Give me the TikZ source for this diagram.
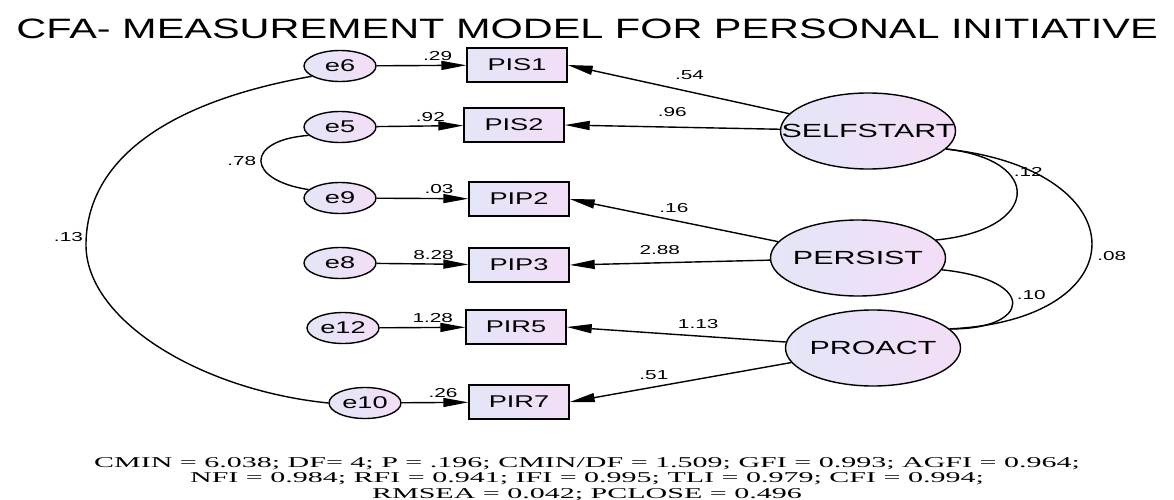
\documentclass[tikz,border=0pt]{standalone}
\usepackage{fontspec}
\setmainfont{Liberation Sans}[FakeStretch=1.6]
\newfontfamily\titlefont{Liberation Sans}[FakeStretch=1.48]
\newfontfamily\statfont{Liberation Serif}[FakeStretch=2.0]
\usetikzlibrary{arrows.meta,positioning,shapes.geometric}
\definecolor{lavleft}{RGB}{228,230,248}
\definecolor{lavright}{RGB}{243,221,247}
\tikzset{
	errnode/.style={ellipse, draw, line width=1.4pt, minimum width=72pt, minimum height=31pt, inner sep=0pt,
		left color=lavleft, right color=lavright, font=\fontsize{17}{19}\selectfont},
	obsnode/.style={rectangle, draw, line width=1.4pt, minimum width=100pt, minimum height=34pt, inner sep=0pt,
		left color=lavleft, right color=lavright, font=\fontsize{17}{19}\selectfont},
	latnode/.style={ellipse, draw, line width=1.4pt, minimum width=175pt, minimum height=76pt,
		inner xsep=-50pt, inner ysep=0pt,
		left color=lavleft, right color=lavright, font=\fontsize{19}{21}\selectfont},
	load/.style={line width=1.4pt, -{Triangle[length=25pt,width=9pt]}},
	cov/.style={line width=1.4pt},
	coef/.style={font=\fontsize{13}{15}\selectfont, inner sep=1pt}
}
\begin{document}
\begin{tikzpicture}[x=1pt, y=-1pt]
	\useasboundingbox[fill=white] (0,0) rectangle (1174,500);
	\node[font=\titlefont\fontsize{28}{30}\selectfont] (title) at (587,29) {CFA- MEASUREMENT MODEL FOR PERSONAL INITIATIVE};
	% error terms
	\node[errnode] (e6) at (340,66) {e6};
	\node[errnode] (e5) at (340,127) {e5};
	\node[errnode] (e9) at (340,198) {e9};
	\node[errnode] (e8) at (340,263) {e8};
	\node[errnode] (e12) at (343,328) {e12};
	\node[errnode] (e10) at (365,403) {e10};
	% indicators
	\node[obsnode] (pis1) at (517,65) {PIS1};
	\node[obsnode] (pis2) at (514,125) {PIS2};
	\node[obsnode] (pip2) at (519,199) {PIP2};
	\node[obsnode] (pip3) at (519,265) {PIP3};
	\node[obsnode] (pir5) at (516,327) {PIR5};
	\node[obsnode] (pir7) at (519,402) {PIR7};
	% factors
	\node[latnode] (self) at (868,131) {SELFSTART};
	\node[latnode] (pers) at (858,258) {PERSIST};
	\node[latnode] (proa) at (873,348) {PROACT};
	% errors to indicators
	\draw[load] (e6) -- node[coef, pos=0.68, above=3pt] {.29} (pis1);
	\draw[load] (e5) -- node[coef, pos=0.62, above=3pt] {.92} (pis2);
	\draw[load] (e9) -- node[coef, pos=0.68, above=3pt] {.03} (pip2);
	\draw[load] (e8) -- node[coef, pos=0.62, above=3pt] {8.28} (pip3);
	\draw[load] (e12) -- node[coef, pos=0.62, above=3pt] {1.28} (pir5);
	\draw[load] (e10) -- node[coef, pos=0.62, above=3pt] {.26} (pir7);
	% factors to indicators
	\draw[load] (self) -- node[coef, pos=0.45, above=10pt] {.54} (pis1.east);
	\draw[load] (self) -- node[coef, pos=0.5, above=9pt] {.96} (pis2.east);
	\draw[load] (pers) -- node[coef, pos=0.5, above=6pt] {.16} (pip2.east);
	\draw[load] (pers) -- node[coef, pos=0.55, above=6pt] {2.88} (pip3.east);
	\draw[load] (proa) -- node[coef, pos=0.4, above=6pt] {1.13} (pir5.east);
	\draw[load] (proa) -- node[coef, pos=0.62, above=6pt] {.51} (pir7.east);
	% covariances
	\draw[cov] (e6.200) .. controls (150,105) and (86,170) .. (86,245) node[coef, above left=2pt] {.13}
		.. controls (86,320) and (200,390) .. (e10.west);
	\draw[cov] (e5.195) .. controls (245,140) and (245,180) .. (e9.165) node[coef, pos=0.5, left=3pt] {.78};
	\draw[cov] (self.-13) .. controls (1045,160) and (1040,230) .. (pers.13) node[coef, pos=0.3, right=5pt] {.12};
	\draw[cov] (self.-13) .. controls (1140,170) and (1140,320) .. (proa.14) node[coef, pos=0.55, right=5pt] {.08};
	\draw[cov] (pers.-8) .. controls (1040,280) and (1030,330) .. (proa.14) node[coef, pos=0.4, right=5pt] {.10};
	% fit indices
	\node[font=\statfont\fontsize{15}{15.5}\selectfont, align=center] (fit) at (587,479)
		{CMIN = 6.038; DF= 4; P = .196; CMIN/DF = 1.509; GFI = 0.993; AGFI = 0.964;\\
		NFI = 0.984; RFI = 0.941; IFI = 0.995; TLI = 0.979; CFI = 0.994;\\
		RMSEA = 0.042; PCLOSE = 0.496};
\end{tikzpicture}
\end{document}
